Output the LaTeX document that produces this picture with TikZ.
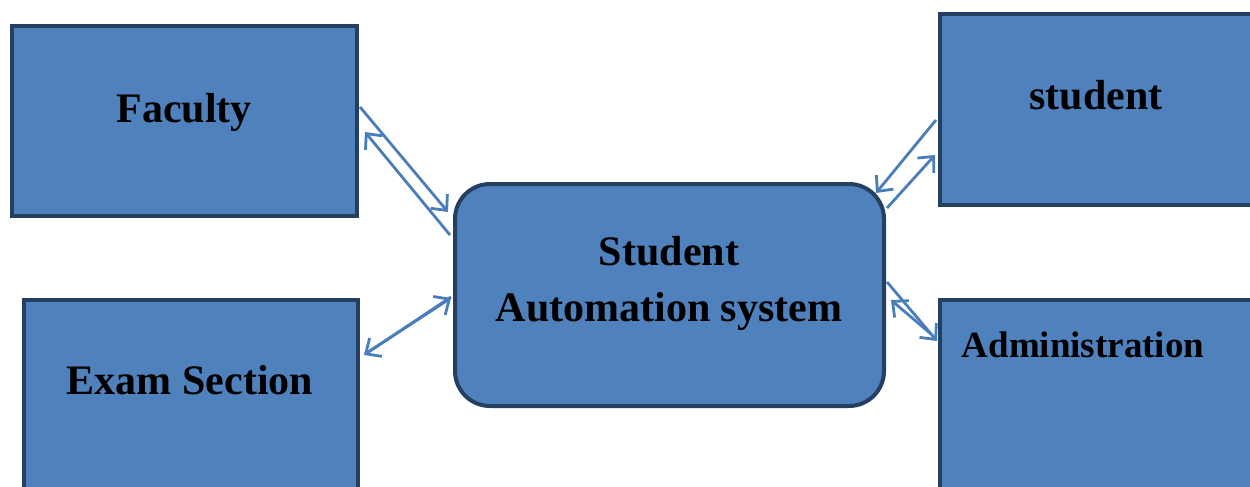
\documentclass[tikz,border=0pt]{standalone}
\usepackage{fontspec}
\setmainfont{Liberation Serif}
\usetikzlibrary{arrows.meta}
\definecolor{boxfill}{HTML}{4F81BD}
\definecolor{boxline}{HTML}{243F60}
\definecolor{arr}{HTML}{4A7EBB}
\begin{document}
\begin{tikzpicture}[x=1pt,y=-1pt,
  blk/.style={draw=boxline,fill=boxfill,line width=4pt,inner sep=0pt},
  lbl/.style={font=\fontsize{42}{56}\selectfont\bfseries,anchor=base,inner sep=0pt,align=center},
  con/.style={draw=arr,line width=2.8pt,-{Straight Barb[length=12pt,width=22pt,line width=2.8pt]}}]
\useasboundingbox (0,0) rectangle (1250,487);
\node[blk,minimum width=345pt,minimum height=190pt] (fac) at (184.5,121) {};
\node[blk,minimum width=334pt,minimum height=200pt] (exam) at (191,400) {};
\node[blk,minimum width=330pt,minimum height=191pt] (stu) at (1105,109.5) {};
\node[blk,minimum width=330pt,minimum height=200pt] (adm) at (1105,400) {};
\node[blk,rounded corners=35pt,minimum width=429pt,minimum height=222pt] (c) at (669.5,295) {};
\node[lbl] (tfac) at (184,122) {Faculty};
\node[lbl] (tstu) at (1096,109) {student};
\node[lbl] (texam) at (190,394) {Exam Section};
\node[lbl,font=\fontsize{37}{44}\selectfont\bfseries] (tadm) at (1083,357) {Administration};
\node[lbl] (tc) at (669,321) {Student\\Automation system};
% Faculty
\draw[con] ([shift={(1,-14)}]fac.east) -- ([shift={(-5,-83)}]c.west);
\draw[con] ([shift={(-3,-60)}]c.west) -- ([shift={(6,11)}]fac.east);
% Exam
\draw[con] ([shift={(-2,2)}]c.west) -- ([shift={(4,-45)}]exam.east);
\draw[con] ([shift={(5,-46)}]exam.east) -- ([shift={(-2,3)}]c.west);
% Student
\draw[con] ([shift={(-2,10.5)}]stu.west) -- ([shift={(-10,-102)}]c.east);
\draw[con] ([shift={(1,-87)}]c.east) -- ([shift={(-3,45.5)}]stu.west);
% Administration
\draw[con] ([shift={(1,-13)}]c.east) -- ([shift={(-1,-59)}]adm.west);
\draw[con] ([shift={(-7,-66)}]adm.west) -- ([shift={(5,5)}]c.east);
\end{tikzpicture}
\end{document}
